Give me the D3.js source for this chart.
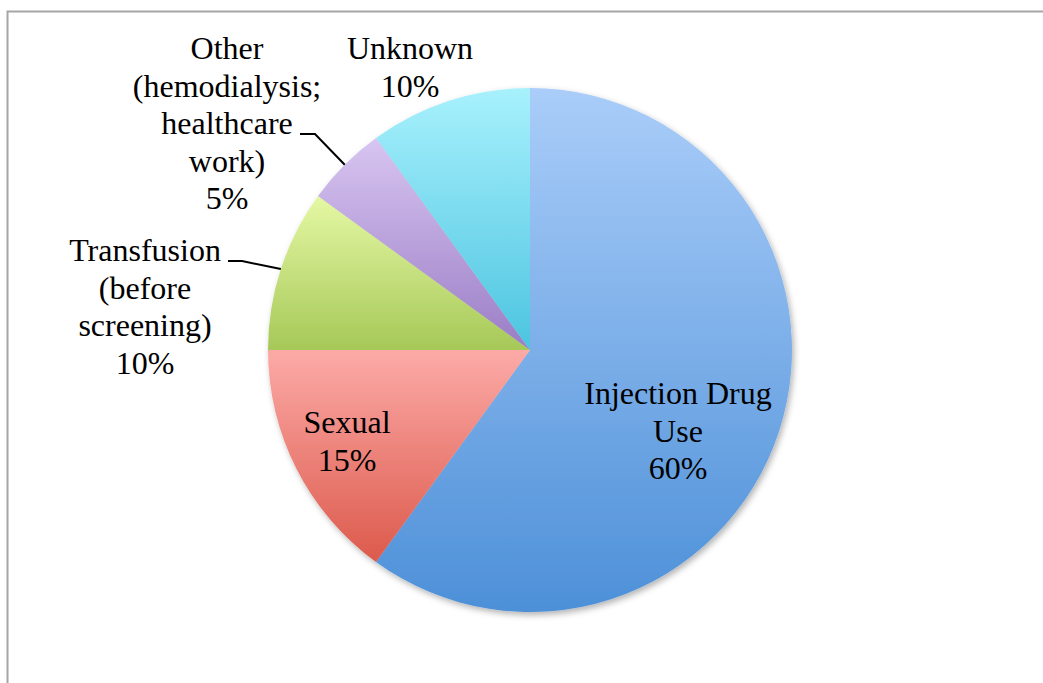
<!DOCTYPE html>
<html>
<head>
<meta charset="utf-8">
<script src="https://d3js.org/d3.v7.min.js"></script>
<style>
  body { margin: 0; background: #fff; }
  svg text { font-family: "Liberation Serif", "Times New Roman", serif; font-size: 32px; fill: #000; }
</style>
</head>
<body>
<div id="chart"></div>
<script>
// data
var categories = ["Injection Drug Use", "Sexual", "Transfusion (before screening)", "Other (hemodialysis; healthcare work)", "Unknown"];
var values = [60, 15, 10, 5, 10];
var labelLines = [
  ["Injection Drug", "Use", "60%"],
  ["Sexual", "15%"],
  ["Transfusion", "(before", "screening)", "10%"],
  ["Other", "(hemodialysis;", "healthcare", "work)", "5%"],
  ["Unknown", "10%"]
];
var colorTop = ["#aacdf9", "#fcaaa7", "#e5f8a4", "#d8c5f1", "#a8f1fd"];
var colorBottom = ["#4d90d8", "#dc5a4c", "#a6c858", "#9a7dc5", "#4cc4e0"];

// layout
var width = 1043, height = 683;
var cx = 530, cy = 350, radius = 262;
var lineH = 37.5;
// label block centre (x) and first-line centre (y), relative to pie centre
var labelPos = [[148, 43], [-183, 72], [-385, -100], [-303, -302], [-120, -302]];
// leader line elbow (relative to pie centre); null = no leader
var leaders = [null, null, [[-302, -89], [-288, -89]], [[-230, -216], [-215, -216]], null];

var svg = d3.select("#chart").append("svg")
  .attr("width", width)
  .attr("height", height);

// outer frame (runs off the right and bottom edges)
svg.append("rect")
  .attr("x", 7.5).attr("y", 11.5)
  .attr("width", width + 20).attr("height", height + 20)
  .attr("fill", "none")
  .attr("stroke", "#a6a6a6")
  .attr("stroke-width", 2);

var defs = svg.append("defs");
var shadow = defs.append("filter").attr("id", "shadow")
  .attr("x", "-10%").attr("y", "-10%").attr("width", "120%").attr("height", "120%");
shadow.append("feDropShadow")
  .attr("dx", 2).attr("dy", 3).attr("stdDeviation", 3)
  .attr("flood-color", "#000").attr("flood-opacity", 0.3);

values.forEach(function (v, i) {
  var g = defs.append("linearGradient").attr("id", "grad" + i)
    .attr("x1", 0).attr("y1", 0).attr("x2", 0).attr("y2", 1);
  g.append("stop").attr("offset", "0%").attr("stop-color", colorTop[i]);
  g.append("stop").attr("offset", "100%").attr("stop-color", colorBottom[i]);
});

var pie = d3.pie().sort(null).value(function (d) { return d; });
var arcs = pie(values);
var arc = d3.arc().innerRadius(0).outerRadius(radius);
var edgeArc = d3.arc().innerRadius(radius).outerRadius(radius);

var g = svg.append("g").attr("transform", "translate(" + cx + "," + cy + ")");

g.append("g").attr("filter", "url(#shadow)")
  .selectAll("path")
  .data(arcs)
  .enter().append("path")
  .attr("d", arc)
  .attr("fill", function (d, i) { return "url(#grad" + i + ")"; });

// leader lines
arcs.forEach(function (d, i) {
  if (!leaders[i]) return;
  var p = edgeArc.centroid(d);
  var pts = leaders[i].concat([p]);
  g.append("path")
    .attr("d", d3.line()(pts))
    .attr("fill", "none")
    .attr("stroke", "#000")
    .attr("stroke-width", 2);
});

// labels
arcs.forEach(function (d, i) {
  var t = g.append("text")
    .attr("text-anchor", "middle")
    .attr("x", labelPos[i][0])
    .attr("y", labelPos[i][1]);
  labelLines[i].forEach(function (line, j) {
    t.append("tspan")
      .attr("x", labelPos[i][0])
      .attr("y", labelPos[i][1] + j * lineH)
      .attr("dy", "0.35em")
      .text(line);
  });
});
</script>
</body>
</html>
